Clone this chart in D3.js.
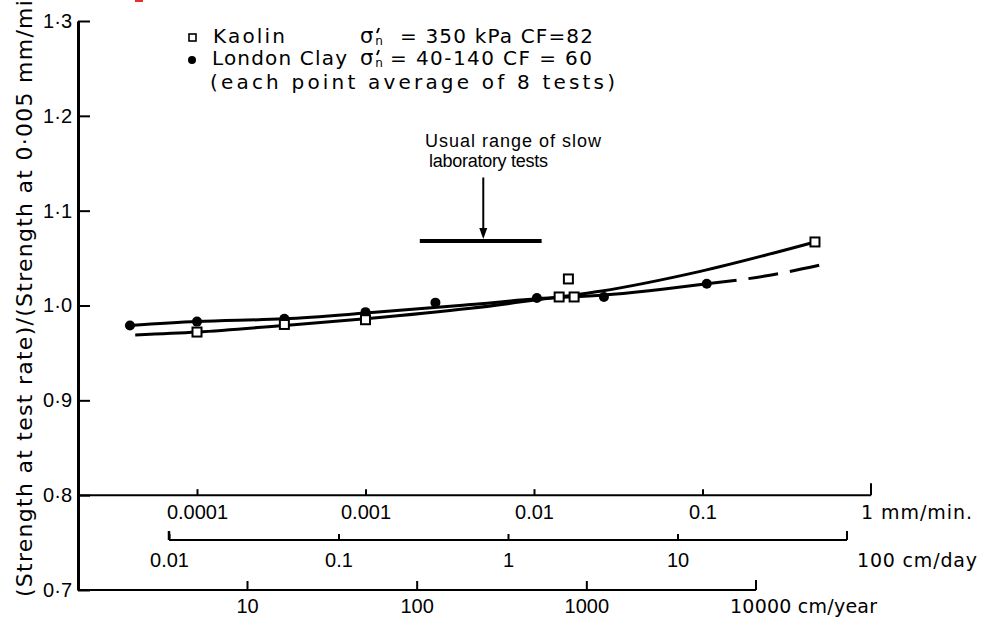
<!DOCTYPE html>
<html>
<head>
<meta charset="utf-8">
<script src="https://cdn.jsdelivr.net/npm/d3@7"></script>
<style>
  html, body { margin: 0; padding: 0; background: #fff; }
  svg { display: block; }
  text { font-family: "Liberation Sans", Arial, sans-serif; fill: #000; }
  text.word { font-family: "DejaVu Sans", "Liberation Sans", sans-serif; }
</style>
</head>
<body>
<svg id="chart" width="985" height="624"></svg>
<script>
// Measured points: rate of shearing (mm/min) and strength ratio
const kaolinRate  = [1e-4, 3.3e-4, 1e-3, 0.0141, 0.0160, 0.0173, 0.465];
const kaolinRatio = [0.972, 0.980, 0.985, 1.009, 1.028, 1.009, 1.067];
const londonRate  = [4.0e-5, 1e-4, 3.3e-4, 1e-3, 0.0026, 0.0104, 0.026, 0.106];
const londonRatio = [0.979, 0.983, 0.986, 0.993, 1.003, 1.008, 1.009, 1.023];

// Hand-fitted trend curves
const kaolinCurveRate  = [4.3e-5, 1e-4, 3.3e-4, 1e-3, 4.2e-3, 0.0104, 0.0247, 0.097, 0.465];
const kaolinCurveRatio = [0.969, 0.972, 0.979, 0.986, 0.997, 1.006, 1.015, 1.036, 1.067];
const londonCurveRate  = [4.0e-5, 1e-4, 3.3e-4, 1e-3, 4.2e-3, 0.0104, 0.026, 0.106];
const londonCurveRatio = [0.979, 0.983, 0.986, 0.992, 1.001, 1.007, 1.011, 1.023];
const londonExtraRate  = [0.106, 0.235, 0.512];
const londonExtraRatio = [1.023, 1.031, 1.043];

// Usual range of slow laboratory tests (mm/min) and reference rate
const usualRange = [0.0021, 0.0111];
const usualLevel = 1.068;
const arrowTopLevel = 1.135;
const referenceRate = 0.005;

// Axis ticks
const yTicks = [0.7, 0.8, 0.9, 1.0, 1.1, 1.2, 1.3];
const mmMinTicks = [1e-4, 1e-3, 1e-2, 1e-1];
const mmMinLabels = ["0.0001", "0.001", "0.01", "0.1"];
const cmDayTicks = [0.01, 0.1, 1, 10];
const cmDayLabels = ["0.01", "0.1", "1", "10"];
const cmYearTicks = [10, 100, 1000];
const cmYearLabels = ["10", "100", "1000"];

const svg = d3.select("#chart");

const y = d3.scaleLinear().domain([0.7, 1.3]).range([590, 21]);
const x = d3.scaleLog().domain([1e-4, 1]).range([197, 871]);        // mm/min
const xDay = d3.scaleLog().domain([0.01, 100]).range([169, 847]);   // cm/day
const xYear = d3.scaleLog().domain([10, 10000]).range([247, 756]);  // cm/year
const axisLeftX = 78;

// ---- Y axis ----
const yAxis = d3.axisLeft(y)
  .tickValues(yTicks)
  .tickSizeInner(-12)
  .tickSizeOuter(0)
  .tickPadding(6)
  .tickFormat(d => d3.format(".1f")(d).replace(".", "\u00b7"));
const gy = svg.append("g").attr("transform", `translate(${axisLeftX},0)`).call(yAxis);
gy.select(".domain").attr("stroke", "#000").attr("stroke-width", 3);
gy.selectAll(".tick line").attr("stroke", "#000").attr("stroke-width", 2);
gy.selectAll(".tick text").attr("font-size", 20).attr("fill", "#000");

// Y axis title (runs past the top edge)
svg.append("text")
  .attr("class", "word")
  .attr("transform", "translate(32,597) rotate(-90)")
  .attr("font-size", 22)
  .attr("textLength", 622)
  .attr("lengthAdjust", "spacing")
  .text("(Strength at test rate)/(Strength at 0\u00b7005 mm/min)");

// ---- Rate axes (ticks point up, labels below) ----
function rateAxis(scale, yPos, ticks, labels, pad, lineStart, tickLen) {
  const ax = d3.axisBottom(scale)
    .tickValues(ticks)
    .tickSizeInner(-tickLen)
    .tickSizeOuter(0)
    .tickPadding(pad)
    .tickFormat((d, i) => labels[i]);
  const g = svg.append("g").attr("transform", `translate(0,${yPos})`).call(ax);
  g.select(".domain").remove();
  g.selectAll(".tick line").attr("stroke", "#000").attr("stroke-width", 2);
  g.selectAll(".tick text").attr("font-size", 20).attr("fill", "#000");
  const r = scale.range();
  g.append("line")
    .attr("x1", lineStart).attr("x2", r[1])
    .attr("y1", 0).attr("y2", 0)
    .attr("stroke", "#000").attr("stroke-width", 2);
  return g;
}

function unitLabel(g, xPos, yPos, len, str) {
  g.append("text")
    .attr("class", "word")
    .attr("text-anchor", "start")
    .attr("x", xPos).attr("y", yPos)
    .attr("font-size", 19)
    .attr("textLength", len).attr("lengthAdjust", "spacing")
    .text(str);
}

// mm/min along the 0.8 line
const gMin = rateAxis(x, y(0.8), mmMinTicks, mmMinLabels, 10, axisLeftX, 6);
gMin.append("line").attr("x1", x(1)).attr("x2", x(1)).attr("y1", 0).attr("y2", -12)
  .attr("stroke", "#000").attr("stroke-width", 2);
unitLabel(gMin, x(1) - 10, 24, 111, "1 mm/min.");

// cm/day
const gDay = rateAxis(xDay, 540, cmDayTicks, cmDayLabels, 13, xDay(0.01), 6);
gDay.append("line").attr("x1", xDay(0.01)).attr("x2", xDay(0.01)).attr("y1", 0).attr("y2", -9)
  .attr("stroke", "#000").attr("stroke-width", 2.5);
gDay.append("line").attr("x1", xDay(100)).attr("x2", xDay(100)).attr("y1", 0).attr("y2", -9)
  .attr("stroke", "#000").attr("stroke-width", 2);
unitLabel(gDay, xDay(100) + 10, 27, 120, "100 cm/day");

// cm/year along the bottom (0.7 line)
const gYear = rateAxis(xYear, y(0.7), cmYearTicks, cmYearLabels, 9, axisLeftX, 9);
gYear.append("line").attr("x1", xYear(10000)).attr("x2", xYear(10000)).attr("y1", 0).attr("y2", -10)
  .attr("stroke", "#000").attr("stroke-width", 2);
unitLabel(gYear, xYear(10000) - 26, 23, 147, "10000 cm/year");

// ---- Trend curves ----
const line = d3.line().x(d => x(d[0])).y(d => y(d[1])).curve(d3.curveMonotoneX);

svg.append("path")
  .datum(d3.zip(kaolinCurveRate, kaolinCurveRatio))
  .attr("d", line).attr("fill", "none").attr("stroke", "#000").attr("stroke-width", 3);

svg.append("path")
  .datum(d3.zip(londonCurveRate, londonCurveRatio))
  .attr("d", line).attr("fill", "none").attr("stroke", "#000").attr("stroke-width", 3);

svg.append("path")
  .datum(d3.zip(londonExtraRate, londonExtraRatio))
  .attr("d", line).attr("fill", "none").attr("stroke", "#000").attr("stroke-width", 3)
  .attr("stroke-dasharray", "30,12");

// ---- Points ----
svg.append("g").selectAll("circle")
  .data(d3.zip(londonRate, londonRatio))
  .join("circle")
  .attr("cx", d => x(d[0])).attr("cy", d => y(d[1]))
  .attr("r", 5).attr("fill", "#000");

const sq = 9;
svg.append("g").selectAll("rect")
  .data(d3.zip(kaolinRate, kaolinRatio))
  .join("rect")
  .attr("x", d => x(d[0]) - sq / 2).attr("y", d => y(d[1]) - sq / 2)
  .attr("width", sq).attr("height", sq)
  .attr("fill", "#fff").attr("stroke", "#000").attr("stroke-width", 2);

// ---- Usual range of slow laboratory tests ----
svg.append("line")
  .attr("x1", x(usualRange[0])).attr("x2", x(usualRange[1]))
  .attr("y1", y(usualLevel)).attr("y2", y(usualLevel))
  .attr("stroke", "#000").attr("stroke-width", 4);
const ax0 = x(referenceRate);
svg.append("line")
  .attr("x1", ax0).attr("x2", ax0)
  .attr("y1", y(arrowTopLevel)).attr("y2", y(usualLevel) - 10)
  .attr("stroke", "#000").attr("stroke-width", 2);
svg.append("path")
  .attr("d", `M${ax0 - 4},${y(usualLevel) - 13} L${ax0 + 4},${y(usualLevel) - 13} L${ax0},${y(usualLevel) - 2} Z`)
  .attr("fill", "#000");
svg.append("text").attr("x", 425).attr("y", 147).attr("font-size", 18)
  .attr("textLength", 176).attr("lengthAdjust", "spacing")
  .text("Usual range of slow");
svg.append("text").attr("x", 429).attr("y", 167).attr("font-size", 18)
  .attr("textLength", 119).attr("lengthAdjust", "spacing")
  .text("laboratory tests");

// ---- Legend ----
const lg = svg.append("g");
lg.append("rect").attr("x", 189).attr("y", 34).attr("width", 7).attr("height", 7)
  .attr("fill", "#fff").attr("stroke", "#000").attr("stroke-width", 1.6);
lg.append("circle").attr("cx", 192).attr("cy", 60).attr("r", 4).attr("fill", "#000");
lg.append("text").attr("class", "word").attr("x", 213).attr("y", 43).attr("font-size", 20)
  .attr("textLength", 72).attr("lengthAdjust", "spacing").text("Kaolin");
lg.append("text").attr("class", "word").attr("x", 212).attr("y", 65).attr("font-size", 20)
  .attr("textLength", 135).attr("lengthAdjust", "spacing").text("London Clay");

// effective normal stress symbol: sigma, subscript n, prime stroke above the n
function sigma(xPos, base) {
  const t = lg.append("text").attr("class", "word").attr("x", xPos).attr("y", base).attr("font-size", 21);
  t.append("tspan").text("\u03c3");
  t.append("tspan").attr("dx", 2).attr("dy", 2).attr("font-size", 12).text("n");
  lg.append("path")
    .attr("d", `M${xPos + 19},${base - 15} L${xPos + 17},${base - 10}`)
    .attr("stroke", "#000").attr("stroke-width", 2).attr("fill", "none");
}
sigma(360, 43);
sigma(360, 65);
lg.append("text").attr("class", "word").attr("x", 400).attr("y", 43).attr("font-size", 20)
  .attr("textLength", 193).attr("lengthAdjust", "spacing").text("= 350 kPa CF=82");
lg.append("text").attr("class", "word").attr("x", 390).attr("y", 65).attr("font-size", 20)
  .attr("textLength", 202).attr("lengthAdjust", "spacing").text("= 40-140  CF = 60");
lg.append("text").attr("class", "word").attr("x", 210).attr("y", 89).attr("font-size", 20)
  .attr("textLength", 405).attr("lengthAdjust", "spacing").text("(each point average of 8 tests)");

// small red mark at the top edge
svg.append("rect").attr("x", 135).attr("y", 0).attr("width", 8).attr("height", 2).attr("fill", "#e8302a");
</script>
</body>
</html>
